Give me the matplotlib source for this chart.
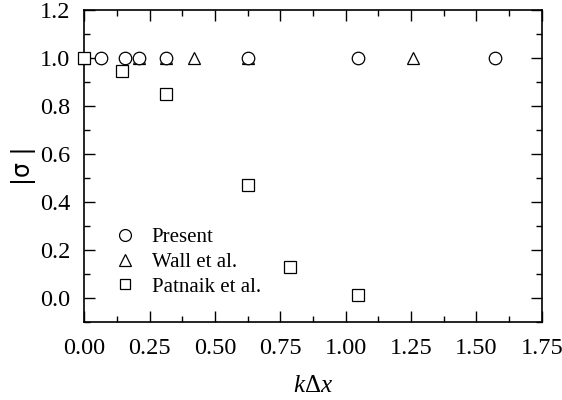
import numpy as np
import matplotlib
matplotlib.use("Agg")
import matplotlib.pyplot as plt
from matplotlib.ticker import MultipleLocator, FormatStrFormatter

plt.rcParams['font.family'] = ['Liberation Serif', 'DejaVu Serif']
plt.rcParams['mathtext.fontset'] = 'custom'
plt.rcParams['mathtext.rm'] = 'Liberation Serif'
plt.rcParams['mathtext.it'] = 'Liberation Serif:italic'

# amplification factor magnitude vs. non-dimensional wavenumber
present_k = [0.0628, 0.157, 0.209, 0.314, 0.628, 1.047, 1.571]
present_sigma = [1.0, 1.0, 1.0, 1.0, 1.0, 1.0, 1.0]

wall_k = [0.0, 0.209, 0.314, 0.419, 0.628, 1.257]
wall_sigma = [1.0, 1.0, 1.0, 1.0, 1.0, 1.0]

patnaik_k = [0.0, 0.143, 0.314, 0.628, 0.785, 1.047]
patnaik_sigma = [1.0, 0.945, 0.848, 0.47, 0.128, 0.01]

fig = plt.figure(figsize=(5.62, 4.0), dpi=100)
ax = fig.add_axes([0.15, 0.196, 0.814, 0.779])

mk = dict(linestyle='none', markerfacecolor='white', markeredgecolor='black',
          markeredgewidth=0.9, clip_on=False)
ax.plot(wall_k, wall_sigma, marker='^', markersize=9, label='Wall et al.', zorder=3, **mk)
ax.plot(present_k, present_sigma, marker='o', markersize=9, label='Present', zorder=4, **mk)
ax.plot(patnaik_k, patnaik_sigma, marker='s', markersize=8, label='Patnaik et al.', zorder=5, **mk)

ax.set_xlim(0, 1.75)
ax.set_ylim(-0.1, 1.2)
ax.xaxis.set_major_locator(MultipleLocator(0.25))
ax.xaxis.set_minor_locator(MultipleLocator(0.125))
ax.yaxis.set_major_locator(MultipleLocator(0.2))
ax.yaxis.set_minor_locator(MultipleLocator(0.1))
ax.xaxis.set_major_formatter(FormatStrFormatter('%.2f'))
ax.yaxis.set_major_formatter(FormatStrFormatter('%.1f'))
ax.tick_params(which='both', direction='in', top=True, right=True,
               labelsize=17.5, width=1.0)
ax.tick_params(axis='x', pad=12)
ax.tick_params(axis='y', pad=10)
ax.tick_params(which='major', length=8)
ax.tick_params(which='minor', length=4)
for s in ax.spines.values():
    s.set_linewidth(1.2)

ax.set_xlabel(r'$k\Delta x$', fontsize=18, labelpad=11)
ax.set_ylabel('|σ |', fontsize=17, family='DejaVu Sans', labelpad=3)

handles, labels = ax.get_legend_handles_labels()
order = [1, 0, 2]
leg = ax.legend([handles[i] for i in order], [labels[i] for i in order],
                loc='lower left', bbox_to_anchor=(0.02, 0.02), frameon=False,
                fontsize=15, handletextpad=0.7, labelspacing=0.25,
                handlelength=1.2, markerscale=0.95)

fig.savefig('out.png', dpi=100)
